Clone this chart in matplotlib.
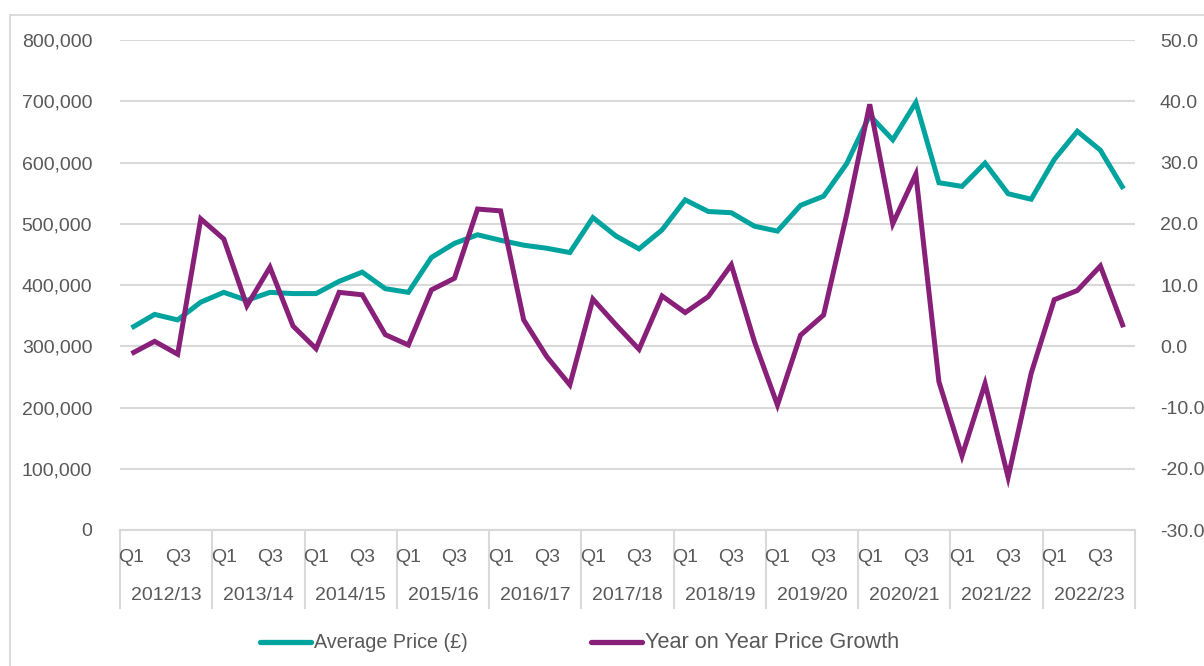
import matplotlib
matplotlib.use("Agg")
import matplotlib.pyplot as plt
from matplotlib.patches import Rectangle
from matplotlib.lines import Line2D

years = ["2012/13", "2013/14", "2014/15", "2015/16", "2016/17", "2017/18",
         "2018/19", "2019/20", "2020/21", "2021/22", "2022/23"]
quarters = ["Q1", "Q2", "Q3", "Q4"]

avg_price = [330000, 352000, 343000, 372000, 388000, 375000, 388000, 386000,
             386000, 406000, 421000, 394000, 388000, 445000, 468000, 482000,
             473000, 465000, 460000, 453000, 510000, 480000, 459000, 490000,
             539000, 520000, 518000, 496000, 488000, 530000, 545000, 598000,
             677000, 637000, 698000, 567000, 561000, 599000, 549000, 540000,
             605000, 651000, 620000, 557000]

yoy_growth = [-1.2, 0.8, -1.3, 20.8, 17.5, 6.6, 12.9, 3.3,
              -0.4, 8.8, 8.4, 1.9, 0.2, 9.2, 11.1, 22.4,
              22.1, 4.3, -1.7, -6.3, 7.7, 3.5, -0.5, 8.2,
              5.5, 8.1, 13.3, 0.8, -9.6, 1.8, 5.1, 21.5,
              39.5, 20.0, 28.1, -5.8, -17.9, -6.1, -21.4, -4.4,
              7.6, 9.1, 13.1, 3.1]

series_names = ["Average Price (£)", "Year on Year Price Growth"]

left_ticks = [0, 100000, 200000, 300000, 400000, 500000, 600000, 700000, 800000]
right_ticks = [-30, -20, -10, 0, 10, 20, 30, 40, 50]

TEAL = "#00A39D"
PURPLE = "#88207A"
GRID = "#D9D9D9"
TXT = "#595959"
FONT = "Liberation Sans"
FS = 14

W, H = 1204, 666
fig = plt.figure(figsize=(W / 100, H / 100), dpi=100)
fig.patch.set_facecolor("white")

# outer chart frame
fig.add_artist(Rectangle((10 / W, -0.1), 1.2, (H - 15) / H + 0.1,
                         transform=fig.transFigure, fill=False,
                         edgecolor=GRID, linewidth=1.3))

L, R, T, B = 120, 1135, 40, 530
ax = fig.add_axes([L / W, 1 - B / H, (R - L) / W, (B - T) / H])
ax2 = ax.twinx()

n = len(avg_price)
xs = [i + 0.5 for i in range(n)]

ax.set_xlim(0, n)
ax.set_ylim(0, 800000)
ax2.set_ylim(-30, 50)

ax.set_yticks(left_ticks)
ax.set_yticklabels([f"{v:,}" for v in left_ticks], fontsize=FS, color=TXT, family=FONT)
ax2.set_yticks(right_ticks)
ax2.set_yticklabels([f"{v:.1f}" for v in right_ticks], fontsize=FS, color=TXT, family=FONT)
ax.tick_params(axis="y", length=0, pad=20)
ax2.tick_params(axis="y", length=0, pad=18)
ax.yaxis.grid(True, color=GRID, linewidth=1.5)
ax.set_axisbelow(True)
ax.set_xticks([])

for a in (ax, ax2):
    for s in a.spines.values():
        s.set_visible(False)

l1, = ax2.plot(xs, avg_price, color=TEAL, linewidth=3.6, solid_joinstyle="miter",
               solid_capstyle="butt", transform=ax.transData)
l2, = ax2.plot(xs, yoy_growth, color=PURPLE, linewidth=3.6, solid_joinstyle="miter",
               solid_capstyle="butt")

# category axis
ax.axhline(0, color=GRID, linewidth=1.5, clip_on=False)
tick_len = 78 / (B - T)
for k in range(len(years) + 1):
    ax.add_line(Line2D([4 * k, 4 * k], [0, -tick_len], color=GRID, linewidth=1.5,
                       transform=ax.get_xaxis_transform(), clip_on=False))
q_off = -28 / (B - T)
y_off = -66 / (B - T)
for i in range(n):
    q = i % 4
    if q in (0, 2):
        ax.text(xs[i], q_off, quarters[q], ha="center", va="center", fontsize=FS,
                color=TXT, family=FONT, transform=ax.get_xaxis_transform())
for k, yr in enumerate(years):
    ax.text(4 * k + 2, y_off, yr, ha="center", va="center", fontsize=FS,
            color=TXT, family=FONT, transform=ax.get_xaxis_transform())

# legend (drawn manually to match placement)
ly = 1 - 642 / H
for (x0, x1, tx, col, name, fs) in [(260, 311, 314, TEAL, series_names[0], 14.2),
                                     (591, 642, 645, PURPLE, series_names[1], 15.6)]:
    fig.add_artist(Line2D([x0 / W, x1 / W], [ly, ly], color=col, linewidth=3.8,
                          solid_capstyle="round", transform=fig.transFigure))
    fig.text(tx / W, ly, name, ha="left", va="center", fontsize=fs, color=TXT,
             family=FONT)

fig.savefig("out.png", dpi=100, facecolor="white")
